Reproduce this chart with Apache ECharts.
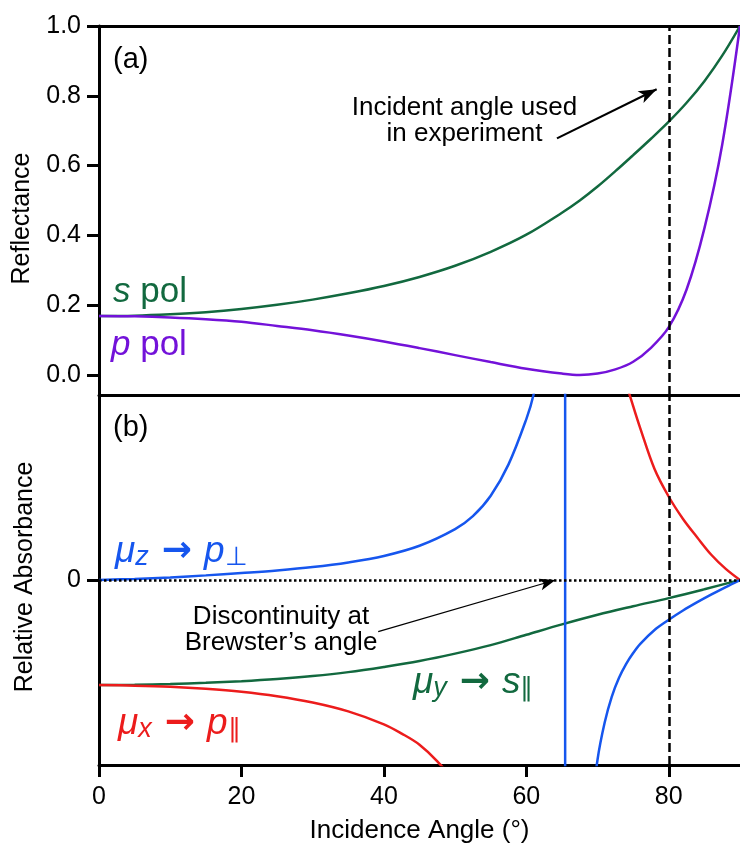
<!DOCTYPE html>
<html>
<head>
<meta charset="utf-8">
<script src="https://cdn.jsdelivr.net/npm/echarts@6/dist/echarts.min.js"></script>
<style>
  html, body { margin: 0; padding: 0; background: #fff; }
  #chart { width: 740px; height: 846px; }
</style>
</head>
<body>
<div id="chart"></div>
<script>
// ---- (a) Reflectance vs incidence angle ----
const reflAngles = [0, 5, 10, 15, 20, 25, 30, 35, 40, 45, 50, 55, 60, 65, 67.5, 70, 72.5, 75, 77.5, 80, 82.5, 85, 87.5, 90];
const sPolR      = [0.169, 0.170, 0.174, 0.180, 0.189, 0.201, 0.216, 0.234, 0.255, 0.281, 0.313, 0.353, 0.402, 0.465, 0.500, 0.540, 0.584, 0.630, 0.677, 0.726, 0.780, 0.842, 0.915, 1.000];
const pPolR      = [0.169, 0.168, 0.165, 0.160, 0.1525, 0.1405, 0.128, 0.113, 0.096, 0.077, 0.057, 0.037, 0.018, 0.004, 0.000, 0.004, 0.016, 0.038, 0.078, 0.137, 0.245, 0.420, 0.660, 1.000];

// ---- (b) Relative absorbance ----
// mu_z -> p_perp : diverges at Brewster's angle and returns from below
const muZAngles = [0, 5, 10, 15, 20, 25, 30, 35, 40, 45, 50, 52.5, 55, 57.5, 60, 61, 62, 63, 64, 65, 65.45,
                   65.45, 66, 67, 68, 69, 70, 71, 72, 73, 74, 75, 76, 78, 80, 82, 84, 86, 88, 90];
const muZValues = [0, 0.006, 0.014, 0.025, 0.038, 0.052, 0.070, 0.095, 0.130, 0.185, 0.275, 0.345, 0.455, 0.625, 0.870, 1.00, 1.22, 1.65, 2.6, 7, 40,
                   -40, -8, -3.3, -1.95, -1.3, -0.97, -0.77, -0.63, -0.53, -0.455, -0.395, -0.345, -0.27, -0.215, -0.165, -0.12, -0.078, -0.038, 0];
// mu_x -> p_par : lower branch, then upper branch after the singularity
const muXLowAngles = [0, 5, 10, 15, 20, 25, 30, 35, 40, 42.5, 45, 47.5, 50, 55, 60, 63, 65, 65.45];
const muXLowValues = [-0.568, -0.571, -0.577, -0.588, -0.604, -0.628, -0.662, -0.710, -0.780, -0.830, -0.890, -0.980, -1.10, -1.5, -2.5, -4.5, -12, -40];
const muXHighAngles = [65.45, 67, 70, 72, 74, 75, 76, 78, 80, 82, 84, 86, 88, 90];
const muXHighValues = [40, 6, 2.1, 1.42, 1.07, 0.94, 0.82, 0.60, 0.45, 0.33, 0.23, 0.135, 0.06, 0];
// mu_y -> s_par
const muYAngles = [0, 5, 10, 15, 20, 25, 30, 35, 40, 45, 50, 55, 60, 65, 70, 75, 80, 85, 90];
const muYValues = [-0.568, -0.566, -0.562, -0.556, -0.547, -0.535, -0.519, -0.498, -0.470, -0.438, -0.398, -0.352, -0.296, -0.240, -0.188, -0.142, -0.098, -0.050, 0];

const angleTicks = [0, 20, 40, 60, 80];
const reflTicks = [0, 0.2, 0.4, 0.6, 0.8, 1.0];
const absTicks = [0];
const experimentAngle = 80;

const FONT = "'Liberation Sans', Arial, Helvetica, sans-serif";
const GREEN = '#12693f', PURPLE = '#7312d9', BLUE = '#1656ee', RED = '#ec1c1c';

const pairs = (xs, ys) => xs.map((x, i) => [x, ys[i]]);

const axisLine = { show: true, onZero: false, lineStyle: { color: '#000', width: 3 } };
const tickStyle = { show: true, inside: false, length: 12, lineStyle: { color: '#000', width: 3 } };

const chart = echarts.init(document.getElementById('chart'), null, { renderer: 'canvas' });

const lineBase = { type: 'line', showSymbol: false, symbol: 'none', smooth: 0.35, clip: true, silent: true, animation: false };

// rich-text label "μ_a → b_c" for the absorbance panel
function transitionLabel(muSub, target, targetSub, color, x, y) {
  return {
    type: 'text', x: x, y: y, silent: true,
    style: {
      text: '{m|μ}{s|' + muSub + '}{a|→}{m|' + target + '}{u|' + targetSub + '}',
      fill: color, verticalAlign: 'middle',
      rich: {
        m: { fontStyle: 'italic', fontSize: 37, lineHeight: 38, fontFamily: FONT, fill: color },
        s: { fontStyle: 'italic', fontSize: 27, lineHeight: 25, fontFamily: FONT, fill: color, verticalAlign: 'bottom' },
        u: { fontSize: 26, lineHeight: 25, fontFamily: FONT, fill: color, verticalAlign: 'bottom' },
        a: { fontSize: 36, fontWeight: 'bold', lineHeight: 38, fontFamily: "'DejaVu Sans', sans-serif", fill: color, padding: [0, 12, 0, 13] }
      }
    }
  };
}

chart.setOption({
  backgroundColor: '#fff',
  animation: false,
  grid: [
    { left: 99, width: 645, top: 26, height: 369 },
    { left: 99, width: 645, top: 395, height: 370 }
  ],
  xAxis: [
    { gridIndex: 0, type: 'value', min: 0, max: 90, position: 'bottom', axisLine: axisLine,
      axisTick: { show: false }, axisLabel: { show: false }, splitLine: { show: false } },
    { gridIndex: 0, type: 'value', min: 0, max: 90, position: 'top', axisLine: axisLine,
      axisTick: { show: false }, axisLabel: { show: false }, splitLine: { show: false } },
    { gridIndex: 1, type: 'value', min: 0, max: 90, position: 'bottom', axisLine: axisLine,
      axisTick: Object.assign({ customValues: angleTicks }, tickStyle),
      axisLabel: { customValues: angleTicks, margin: 20, color: '#000', fontSize: 25, fontFamily: FONT },
      splitLine: { show: false },
      name: 'Incidence Angle (°)', nameLocation: 'middle', nameGap: 53,
      nameTextStyle: { color: '#000', fontSize: 26, fontFamily: FONT } }
  ],
  yAxis: [
    { gridIndex: 0, type: 'value', min: -0.0573, max: 1.0, axisLine: axisLine,
      axisTick: Object.assign({ customValues: reflTicks }, tickStyle),
      axisLabel: { customValues: reflTicks, margin: 18, color: '#000', fontSize: 25, fontFamily: FONT,
                   formatter: v => v.toFixed(1) },
      splitLine: { show: false } },
    { gridIndex: 1, type: 'value', min: -1, max: 1, axisLine: axisLine,
      axisTick: Object.assign({ customValues: absTicks }, tickStyle),
      axisLabel: { customValues: absTicks, margin: 18, color: '#000', fontSize: 25, fontFamily: FONT },
      splitLine: { show: false } }
  ],
  series: [
    Object.assign({}, lineBase, {
      name: 's pol', xAxisIndex: 0, yAxisIndex: 0,
      data: pairs(reflAngles, sPolR),
      lineStyle: { color: GREEN, width: 2.5 },
      markLine: {
        silent: true, animation: false, label: { show: false }, symbol: ['none', 'none'],
        data: [
          [ { coord: [experimentAngle, -0.0573], lineStyle: { color: '#000', width: 2.5, type: [9, 4] } },
            { coord: [experimentAngle, 1.0] } ],
          [ { coord: [64.3, 0.678], symbol: 'none', lineStyle: { color: '#000', width: 2.2, type: 'solid' } },
            { coord: [78.3, 0.819], symbol: 'arrow', symbolSize: [10, 18] } ]
        ]
      }
    }),
    Object.assign({}, lineBase, {
      name: 'p pol', xAxisIndex: 0, yAxisIndex: 0,
      data: pairs(reflAngles, pPolR),
      lineStyle: { color: PURPLE, width: 2.5 }
    }),
    Object.assign({}, lineBase, {
      name: 'μy → s∥', xAxisIndex: 2, yAxisIndex: 1,
      data: pairs(muYAngles, muYValues),
      lineStyle: { color: GREEN, width: 2.5 },
      markLine: {
        silent: true, animation: false, label: { show: false }, symbol: ['none', 'none'],
        data: [
          [ { coord: [0, 0], lineStyle: { color: '#000', width: 2.5, type: [2.5, 2.5] } },
            { coord: [90, 0] } ],
          [ { coord: [experimentAngle, -1], lineStyle: { color: '#000', width: 2.5, type: [9, 4] } },
            { coord: [experimentAngle, 1] } ],
          [ { coord: [39.2, -0.279], symbol: 'none', lineStyle: { color: '#000', width: 1.3, type: 'solid' } },
            { coord: [64.1, 0.0], symbol: 'arrow', symbolSize: [9, 16] } ]
        ]
      }
    }),
    Object.assign({}, lineBase, {
      name: 'μx → p∥', xAxisIndex: 2, yAxisIndex: 1,
      data: pairs(muXLowAngles, muXLowValues),
      lineStyle: { color: RED, width: 2.5 }
    }),
    Object.assign({}, lineBase, {
      name: 'μx → p∥ (upper)', xAxisIndex: 2, yAxisIndex: 1,
      data: pairs(muXHighAngles, muXHighValues),
      lineStyle: { color: RED, width: 2.5 }
    }),
    Object.assign({}, lineBase, {
      name: 'μz → p⊥', xAxisIndex: 2, yAxisIndex: 1,
      data: pairs(muZAngles, muZValues),
      lineStyle: { color: BLUE, width: 2.5 }
    })
  ],
  graphic: [
    { type: 'text', x: 113, y: 60, silent: true,
      style: { text: '(a)', fill: '#000', font: '29px ' + FONT, verticalAlign: 'middle' } },
    { type: 'text', x: 113, y: 428, silent: true,
      style: { text: '(b)', fill: '#000', font: '29px ' + FONT, verticalAlign: 'middle' } },
    { type: 'text', x: 22.5, y: 218.5, rotation: Math.PI / 2, silent: true,
      style: { text: 'Reflectance', fill: '#000', font: '25px ' + FONT, align: 'center', verticalAlign: 'middle' } },
    { type: 'text', x: 25, y: 577, rotation: Math.PI / 2, silent: true,
      style: { text: 'Relative Absorbance', fill: '#000', font: '25px ' + FONT, align: 'center', verticalAlign: 'middle' } },
    { type: 'text', x: 464.5, y: 121, silent: true,
      style: { text: 'Incident angle used\nin experiment', fill: '#000', font: '26px ' + FONT,
               align: 'center', verticalAlign: 'middle', lineHeight: 26 } },
    { type: 'text', x: 281, y: 630, silent: true,
      style: { text: 'Discontinuity at\nBrewster’s angle', fill: '#000', font: '26px ' + FONT,
               align: 'center', verticalAlign: 'middle', lineHeight: 26 } },
    { type: 'text', x: 113, y: 292, silent: true,
      style: { text: '{i|s} pol', fill: GREEN, font: '35px ' + FONT, verticalAlign: 'middle',
               rich: { i: { fontStyle: 'italic', fontSize: 35, fontFamily: FONT, fill: GREEN } } } },
    { type: 'text', x: 111, y: 345, silent: true,
      style: { text: '{i|p} pol', fill: PURPLE, font: '35px ' + FONT, verticalAlign: 'middle',
               rich: { i: { fontStyle: 'italic', fontSize: 35, fontFamily: FONT, fill: PURPLE } } } },
    transitionLabel('z', 'p', '⊥', BLUE, 115, 552),
    transitionLabel('y', 's', '∥', GREEN, 413, 683),
    transitionLabel('x', 'p', '∥', RED, 118, 724)
  ]
});
</script>
</body>
</html>
